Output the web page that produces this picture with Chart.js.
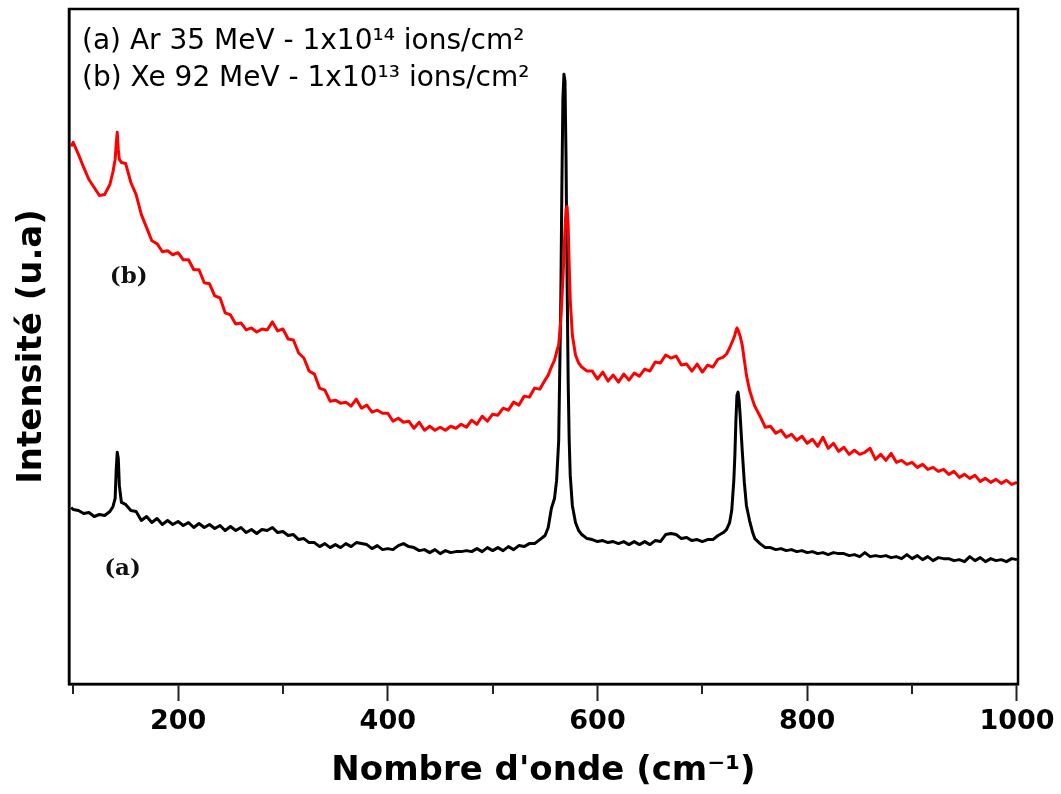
<!DOCTYPE html>
<html>
<head>
<meta charset="utf-8">
<script src="https://cdn.jsdelivr.net/npm/chart.js@4.4.1/dist/chart.umd.min.js"></script>
<style>
html, body { margin: 0; padding: 0; background: #fff; }
#wrap { width: 1061px; height: 794px; position: relative; }
</style>
</head>
<body>
<div id="wrap"><canvas id="ramanChart"></canvas></div>
<script>
// Raman spectra, wavenumber (cm-1) vs intensity (arbitrary units)
const wavenumbers = [
  98, 100, 105, 110, 115, 120, 125, 130, 135, 138, 140, 141, 142, 143, 144, 146,
  150, 155, 160, 165, 170, 175, 180, 185, 190, 195,
  200, 205, 210, 215, 220, 225, 230, 235, 240, 245,
  250, 255, 260, 265, 270, 275, 280, 285, 290, 295,
  300, 305, 310, 315, 320, 325, 330, 335, 340, 345,
  350, 355, 360, 365, 370, 375, 380, 385, 390, 395,
  400, 405, 410, 415, 420, 425, 430, 435, 440, 445,
  450, 455, 460, 465, 470, 475, 480, 485, 490, 495,
  500, 505, 510, 515, 520, 525, 530, 535, 540, 545,
  550, 553, 556, 559, 561, 563, 565, 566, 567, 568, 569, 570, 571, 572, 573, 574, 576, 579, 582, 585, 590,
  595, 600, 605, 610, 615, 620, 625, 630, 635, 640, 645, 650, 655, 660, 665, 670, 675, 680, 685, 690,
  695, 700, 705, 710, 715,
  720, 723, 726, 728, 730, 731, 732, 733, 734, 735, 736, 738, 740, 742, 745, 748, 750,
  755, 760, 765, 770, 775, 780, 785, 790, 795, 800,
  805, 810, 815, 820, 825, 830, 835, 840, 845, 850,
  855, 860, 865, 870, 875, 880, 885, 890, 895, 900,
  905, 910, 915, 920, 925, 930, 935, 940, 945, 950,
  955, 960, 965, 970, 975, 980, 985, 990, 995, 1000
];

// (a) Ar 35 MeV - 1x10^14 ions/cm2
const intensityA = [
  193, 191, 190, 187, 188, 184, 186, 185, 189, 194, 202, 230, 248, 242, 215, 198,
  196, 190, 189, 180, 184, 178, 182, 176, 180, 176,
  179, 175, 178, 173, 177, 173, 176, 172, 175, 170,
  174, 170, 173, 168, 171, 167, 171, 170, 173, 168,
  169, 165, 166, 161, 162, 158, 158, 154, 157, 153,
  156, 153, 157, 154, 158, 157, 156, 152, 155, 151,
  152, 151, 155, 157, 154, 153, 150, 151, 148, 151,
  147, 150, 148, 149, 149, 150, 149, 152, 149, 153,
  150, 153, 150, 154, 151, 155, 154, 157, 157, 161,
  165, 173, 192, 202, 220, 260, 400, 510, 600, 625, 618, 540, 420, 320, 260, 225, 195, 178, 170, 166, 162,
  161, 159, 160, 158, 159, 157, 159, 156, 159, 156, 159, 156, 160, 159, 166, 167, 166, 162, 163, 160,
  161, 159, 161, 161, 165,
  168, 171, 178, 190, 220, 245, 280, 305, 308, 300, 285, 250, 218, 195, 180, 168, 162,
  157, 153, 153, 151, 152, 150, 151, 149, 150, 148,
  149, 147, 148, 146, 148, 147, 147, 145, 146, 144,
  148, 144, 145, 144, 145, 143, 144, 142, 146, 142,
  145, 141, 144, 140, 143, 142, 142, 140, 141, 139,
  144, 140, 143, 139, 142, 140, 141, 139, 142, 141
];

// (b) Xe 92 MeV - 1x10^13 ions/cm2
const intensityB = [
  553, 557, 545, 532, 520, 512, 504, 505, 515, 528, 540, 555, 567, 550, 540, 537,
  536, 517, 505, 485, 472, 459, 456, 448, 449, 445,
  447, 440, 440, 430, 430, 417, 416, 404, 402, 387,
  385, 376, 377, 370, 372, 368, 371, 370, 378, 369,
  371, 361, 360, 347, 342, 329, 326, 312, 310, 299,
  300, 297, 298, 294, 301, 292, 295, 288, 290, 287,
  287, 279, 282, 278, 279, 272, 278, 270, 274, 270,
  273, 270, 274, 272, 276, 273, 280, 276, 284, 279,
  286, 285, 292, 290, 298, 295, 304, 303, 312, 311,
  320, 325, 333, 340, 348, 355, 380, 400, 420, 445, 470, 490, 493, 475, 435, 400, 365, 345, 337, 333, 329,
  329, 321, 328, 319, 325, 318, 326, 320, 327, 324, 331, 329, 338, 337, 345, 342, 344, 335, 336, 329,
  336, 328, 335, 333, 341,
  343, 346, 352, 357, 362, 365, 369, 372, 370, 367, 364, 355, 340, 325, 310, 300, 294,
  284, 273, 274, 267, 270, 263, 266, 260, 264, 257,
  261, 254, 263, 252, 257, 249, 253, 246, 250, 246,
  248, 252, 241, 246, 240, 247, 238, 240, 236, 238,
  233, 236, 231, 233, 229, 231, 226, 229, 223, 226,
  222, 225, 219, 222, 218, 221, 217, 220, 216, 218
];

const xMajorTicks = [200, 400, 600, 800, 1000];
const xMinorTicks = [100, 300, 500, 700, 900];

const legendLines = [
  '(a) Ar 35 MeV - 1x10¹⁴ ions/cm²',
  '(b) Xe 92 MeV - 1x10¹³ ions/cm²'
];
// curve labels placed in data coordinates
const curveLabels = [
  { text: '(a)', x: 147, y: 132 },
  { text: '(b)', x: 153, y: 423 }
];

const toPoints = (vals) => wavenumbers.map((w, i) => ({ x: w, y: vals[i] }));

// frame, minor ticks and texts
const decorPlugin = {
  id: 'decor',
  afterDraw(chart) {
    const { ctx, chartArea: a, scales: { x, y } } = chart;
    ctx.save();
    ctx.strokeStyle = '#000';
    ctx.lineWidth = 2.5;
    ctx.strokeRect(a.left, a.top, a.right - a.left, a.bottom - a.top);

    ctx.strokeStyle = '#222';
    ctx.lineWidth = 2;
    xMinorTicks.forEach(v => {
      const px = Math.round(x.getPixelForValue(v));
      ctx.beginPath();
      ctx.moveTo(px, a.bottom);
      ctx.lineTo(px, a.bottom + 10);
      ctx.stroke();
    });

    ctx.fillStyle = '#000';
    ctx.font = '28px "DejaVu Sans"';
    ctx.textBaseline = 'middle';
    ctx.textAlign = 'left';
    legendLines.forEach((t, i) => {
      ctx.fillText(t, a.left + 13, 42 + i * 37);
    });

    ctx.font = 'bold 23px "DejaVu Serif"';
    ctx.textAlign = 'center';
    ctx.fillStyle = '#111';
    curveLabels.forEach(l => {
      ctx.fillText(l.text, x.getPixelForValue(l.x), y.getPixelForValue(l.y));
    });
    ctx.restore();
  }
};

new Chart(document.getElementById('ramanChart'), {
  type: 'line',
  data: {
    datasets: [
      {
        label: 'Xe 92 MeV',
        data: toPoints(intensityB),
        borderColor: '#ff0000',
        borderWidth: 3,
        pointRadius: 0,
        tension: 0,
        borderJoinStyle: 'round'
      },
      {
        label: 'Ar 35 MeV',
        data: toPoints(intensityA),
        borderColor: '#000000',
        borderWidth: 3,
        pointRadius: 0,
        tension: 0,
        borderJoinStyle: 'round'
      }
    ]
  },
  options: {
    responsive: true,
    maintainAspectRatio: false,
    animation: false,
    layout: { padding: { top: 9, right: 43, left: 0, bottom: 0 } },
    plugins: {
      legend: { display: false },
      tooltip: { enabled: false }
    },
    scales: {
      x: {
        type: 'linear',
        min: 96,
        max: 1001,
        afterBuildTicks: (scale) => { scale.ticks = xMajorTicks.map(v => ({ value: v })); },
        afterFit: (scale) => { scale.height = 110; },
        grid: {
          drawOnChartArea: false,
          drawTicks: true,
          tickLength: 17,
          tickWidth: 2,
          tickColor: '#222'
        },
        border: { display: true, color: '#000', width: 2.5 },
        ticks: {
          color: '#000',
          padding: 5,
          maxRotation: 0,
          callback: (v) => String(v),
          font: { family: '"DejaVu Sans"', size: 27, weight: 'bold' }
        },
        title: {
          display: true,
          text: "Nombre d'onde (cm⁻¹)",
          color: '#000',
          padding: { top: 0, bottom: 2 },
          font: { family: '"DejaVu Sans"', size: 34, weight: 'bold' }
        }
      },
      y: {
        min: 17,
        max: 690,
        afterFit: (scale) => { scale.width = 69; },
        grid: { display: false },
        border: { display: true, color: '#000', width: 2.5 },
        ticks: { display: false },
        title: {
          display: true,
          text: 'Intensité (u.a)',
          color: '#000',
          padding: { top: 12, bottom: 0 },
          font: { family: '"DejaVu Sans"', size: 34, weight: 'bold' }
        }
      }
    }
  },
  plugins: [decorPlugin]
});
</script>
</body>
</html>
